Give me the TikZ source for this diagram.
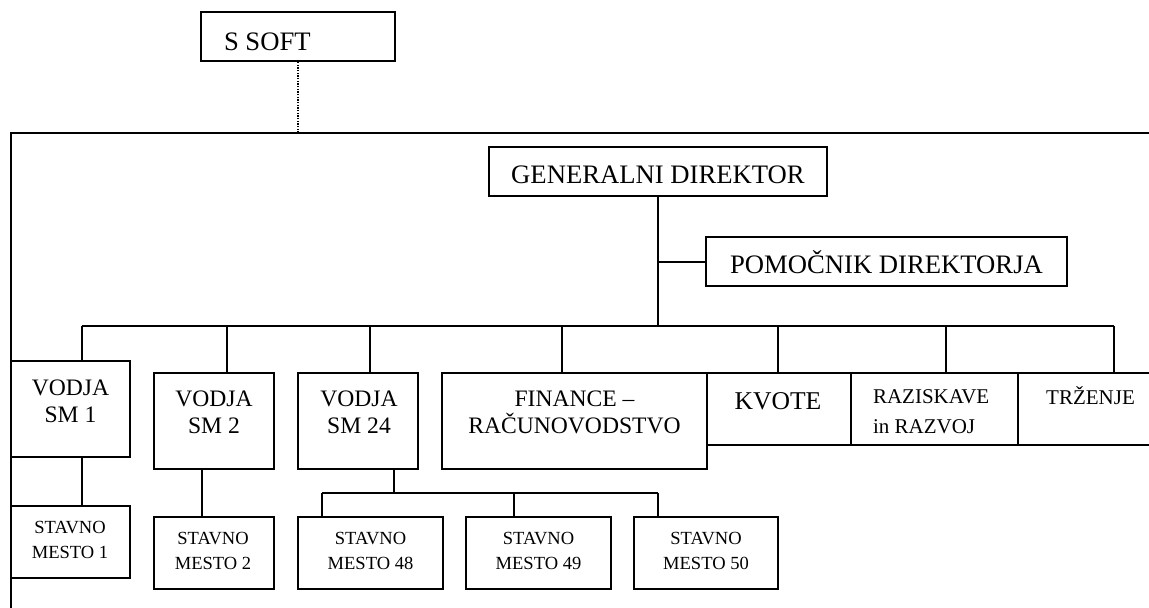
\documentclass[tikz,border=0pt]{standalone}
\usepackage{fontspec}
\setmainfont{Liberation Serif}
\begin{document}
\begin{tikzpicture}[x=0.75pt,y=-0.75pt,
  line width=1.5pt,
  box/.style={draw,rectangle,inner sep=0pt,line width=1.5pt},
  sz/.style 2 args={minimum width={#1*0.75},minimum height={#2*0.75}},
  lbl/.style={inner sep=0pt,anchor=base,align=center},
  wire/.style={line width=1.5pt},
  fbig/.style={font=\fontsize{20}{24}\selectfont},
  fkv/.style={font=\fontsize{19.2}{23}\selectfont},
  fmid/.style={font=\fontsize{17.7}{20.2}\selectfont},
  fsm/.style={font=\fontsize{15.75}{22}\selectfont},
  ftiny/.style={font=\fontsize{13.9}{18.2}\selectfont}
]
\useasboundingbox (0,0) rectangle (1149,607);
\clip (0,0) rectangle (1149,607);

% top-level company box and the enclosing frame
\node[box,sz={194}{49}] (ssoft) at (298,36.5) {};
\node[lbl,anchor=base west,fbig] (ssoft-t) at (223,50) {S SOFT};
\coordinate (ftop) at (298,133);
\draw[wire] (11,620) -- (11,133) -- (1160,133);
\draw[densely dotted,line width=1pt] (ssoft.south) -- (ftop);

% management
\node[box,sz={338}{49}] (gd) at (658,171.5) {};
\node[lbl,fbig] (gd-t) at (658,183) {GENERALNI DIREKTOR};
\node[box,sz={361}{49}] (pd) at (886.5,261.5) {};
\node[lbl,fbig] (pd-t) at (886.5,273) {POMOČNIK DIREKTORJA};

% departments (multi-line labels sit on the baseline of their last line)
\node[box,sz={119}{96}] (vsm1) at (70.5,409) {};
\node[lbl,fmid] (vsm1-t) at (70.5,422) {VODJA\\SM 1};
\node[box,sz={120}{96}] (vsm2) at (214,421) {};
\node[lbl,fmid] (vsm2-t) at (214,433) {VODJA\\SM 2};
\node[box,sz={120}{96}] (vsm24) at (358,421) {};
\node[lbl,fmid] (vsm24-t) at (359,433) {VODJA\\SM 24};
\node[box,sz={265}{96}] (fin) at (574.5,421) {};
\node[lbl,fmid] (fin-t) at (574.5,433) {FINANCE –\\RAČUNOVODSTVO};
\node[box,sz={144}{72}] (kvote) at (779,409) {};
\node[lbl,fkv] (kvote-t) at (778,409) {KVOTE};
\node[box,sz={167}{72}] (raz) at (934.5,409) {};
\node[lbl,fsm,align=left,anchor=base west] (raz-t) at (872,433) {RAZISKAVE\\in RAZVOJ};
\node[box,sz={144}{72}] (trz) at (1090,409) {};
\node[lbl,fsm] (trz-t) at (1090.5,404) {TRŽENJE};

% workplaces
\node[box,sz={119}{72}] (sm1) at (70.5,542) {};
\node[lbl,ftiny] (sm1-t) at (70,558) {STAVNO\\MESTO 1};
\node[box,sz={120}{72}] (sm2) at (214,553) {};
\node[lbl,ftiny] (sm2-t) at (213,569) {STAVNO\\MESTO 2};
\node[box,sz={145}{72}] (sm48) at (370.5,553) {};
\node[lbl,ftiny] (sm48-t) at (370.5,569) {STAVNO\\MESTO 48};
\node[box,sz={145}{72}] (sm49) at (538.5,553) {};
\node[lbl,ftiny] (sm49-t) at (538.5,569) {STAVNO\\MESTO 49};
\node[box,sz={144}{72}] (sm50) at (706,553) {};
\node[lbl,ftiny] (sm50-t) at (706,569) {STAVNO\\MESTO 50};

% main distribution line
\coordinate (b1) at (82,326);
\coordinate (b2) at (227,326);
\coordinate (b3) at (370,326);
\coordinate (b4) at (562,326);
\coordinate (b5) at (778,326);
\coordinate (b6) at (946,326);
\coordinate (b7) at (1114,326);
\draw[wire] (b1) -- (b7);
\draw[wire] (gd.south) -- (gd.south |- b1);
\draw[wire] (gd.south |- pd.west) -- (pd.west);
\draw[wire] (b1) -- (b1 |- vsm1.north);
\draw[wire] (b2) -- (b2 |- vsm2.north);
\draw[wire] (b3) -- (b3 |- vsm24.north);
\draw[wire] (b4) -- (b4 |- fin.north);
\draw[wire] (b5) -- (b5 |- kvote.north);
\draw[wire] (b6) -- (b6 |- raz.north);
\draw[wire] (b7) -- (b7 |- trz.north);

% leaders to their workplaces
\draw[wire] (b1 |- vsm1.south) -- (b1 |- sm1.north);
\coordinate (k2) at (202,469);
\draw[wire] (k2) -- (k2 |- sm2.north);
\coordinate (k24) at (394,469);
\coordinate (s48) at (322,493);
\coordinate (s49) at (514,493);
\coordinate (s50) at (658,493);
\draw[wire] (k24) -- (k24 |- s48);
\draw[wire] (s48) -- (s50);
\draw[wire] (s48) -- (s48 |- sm48.north);
\draw[wire] (s49) -- (s49 |- sm49.north);
\draw[wire] (s50) -- (s50 |- sm50.north);
\end{tikzpicture}
\end{document}
